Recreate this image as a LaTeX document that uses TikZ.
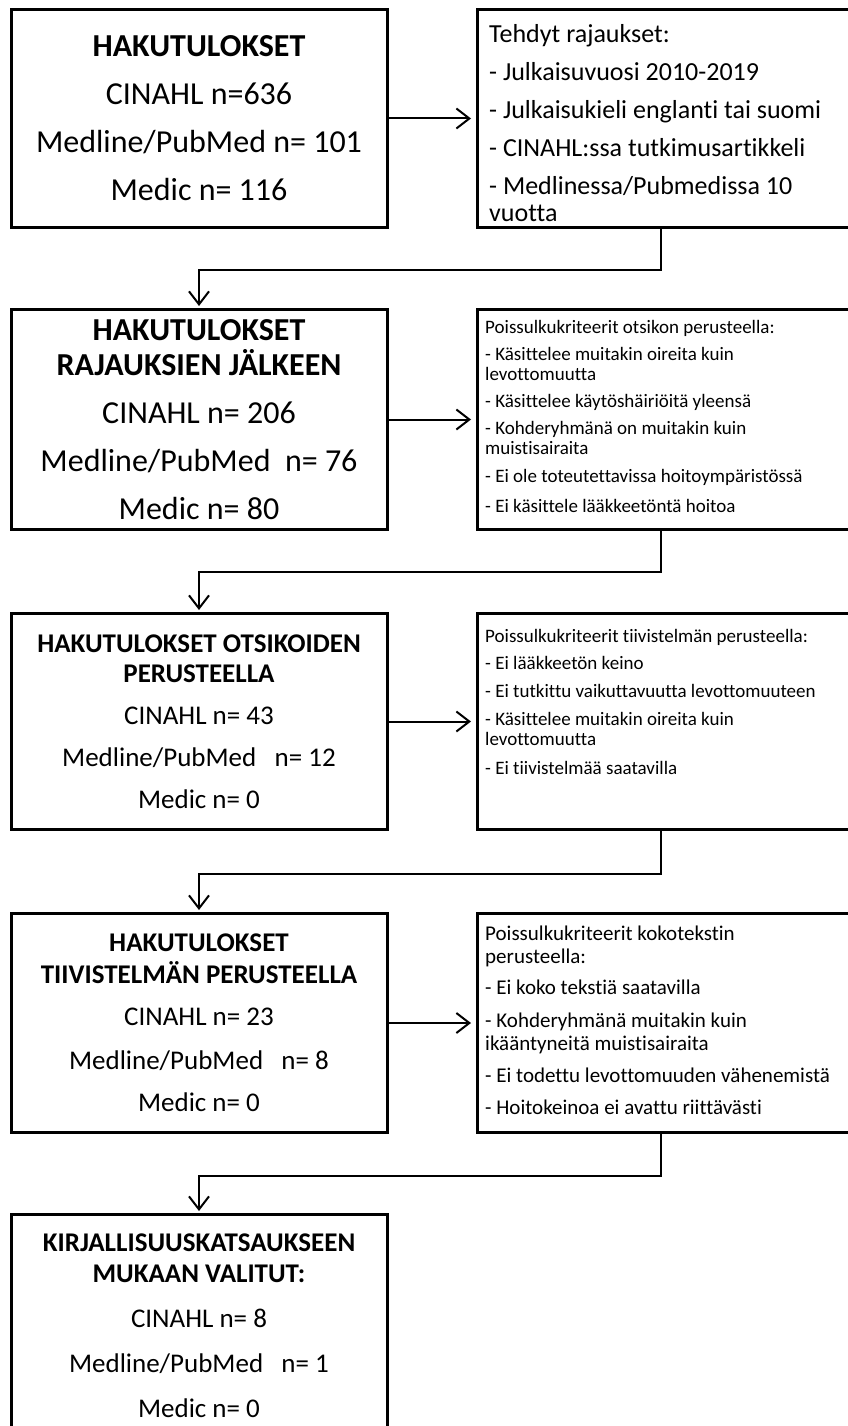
\documentclass[tikz,border=0pt]{standalone}
\usepackage{fontspec}
\setmainfont{Carlito}[Ligatures=NoCommon]
\usepackage{tikz}
\usetikzlibrary{arrows.meta, positioning}

\begin{document}
\begin{tikzpicture}[x=1pt, y=-1pt,
    haku/.style={draw, line width=3pt, minimum width=376pt, anchor=north, align=center},
    rajaus/.style={draw, line width=3pt, minimum width=416pt, anchor=north west},
    rajausteksti/.style={anchor=north west, align=left, inner sep=0pt},
    nuoli/.style={-{Straight Barb[length=13pt,width=20pt]}, line width=2pt}]

    \useasboundingbox (0,0) rectangle (848,1426);

    % Hakutulokset
    \node[haku, minimum height=218pt, font=\fontsize{32}{48}\selectfont] (b1) at (199,8)
        {\textbf{HAKUTULOKSET}\\CINAHL n=636\\Medline/PubMed n= 101\\Medic n= 116};
    \node[haku, minimum height=220pt, font=\fontsize{32}{35}\selectfont] (b2) at (199,308)
        {\textbf{HAKUTULOKSET}\\\textbf{RAJAUKSIEN JÄLKEEN}\\[13pt]CINAHL n= 206\\[13pt]Medline/PubMed\ \ n= 76\\[13pt]Medic n= 80};
    \node[haku, minimum height=216pt, font=\fontsize{27}{30}\selectfont] (b3) at (199,612)
        {\textbf{HAKUTULOKSET OTSIKOIDEN}\\\textbf{PERUSTEELLA}\\[12pt]CINAHL n= 43\\[12pt]Medline/PubMed\ \ \ n= 12\\[12pt]Medic n= 0};
    \node[haku, minimum height=219pt, font=\fontsize{27}{32}\selectfont] (b4) at (199,912)
        {\textbf{HAKUTULOKSET}\\\textbf{TIIVISTELMÄN PERUSTEELLA}\\[10pt]CINAHL n= 23\\[12pt]Medline/PubMed\ \ \ n= 8\\[10pt]Medic n= 0};
    \node[haku, minimum height=222pt, font=\fontsize{27}{31}\selectfont] (b5) at (199,1213)
        {\textbf{KIRJALLISUUSKATSAUKSEEN}\\\textbf{MUKAAN VALITUT:}\\[14pt]CINAHL n= 8\\[14pt]Medline/PubMed\ \ \ n= 1\\[14pt]Medic n= 0};

    % Rajaukset ja poissulkukriteerit
    \node[rajaus, minimum height=218pt] (c1) at (476,8) {};
    \node[rajaus, minimum height=220pt] (c2) at (476,308) {};
    \node[rajaus, minimum height=216pt] (c3) at (476,612) {};
    \node[rajaus, minimum height=219pt] (c4) at (476,912) {};

    \node[rajausteksti, font=\fontsize{26}{27}\selectfont] (t1) at ([xshift=13pt,yshift=-16pt]c1.north west)
        {Tehdyt rajaukset:\\[11pt]- Julkaisuvuosi 2010-2019\\[11pt]- Julkaisukieli englanti tai suomi\\[11pt]- CINAHL:ssa tutkimusartikkeli\\[11pt]- Medlinessa/Pubmedissa 10\\vuotta};
    \node[rajausteksti, font=\fontsize{19}{20}\selectfont] (t2) at ([xshift=9pt,yshift=-12pt]c2.north west)
        {Poissulkukriteerit otsikon perusteella:\\[7pt]- Käsittelee muitakin oireita kuin\\levottomuutta\\[7pt]- Käsittelee käytöshäiriöitä yleensä\\[7pt]- Kohderyhmänä on muitakin kuin\\muistisairaita\\[8pt]- Ei ole toteutettavissa hoitoympäristössä\\[10pt]- Ei käsittele lääkkeetöntä hoitoa};
    \node[rajausteksti, font=\fontsize{19}{20}\selectfont] (t3) at ([xshift=9pt,yshift=-17pt]c3.north west)
        {Poissulkukriteerit tiivistelmän perusteella:\\[7pt]- Ei lääkkeetön keino\\[8pt]- Ei tutkittu vaikuttavuutta levottomuuteen\\[8pt]- Käsittelee muitakin oireita kuin\\levottomuutta\\[9pt]- Ei tiivistelmää saatavilla};
    \node[rajausteksti, font=\fontsize{21}{23}\selectfont] (t4) at ([xshift=9pt,yshift=-14pt]c4.north west)
        {Poissulkukriteerit kokotekstin\\perusteella:\\[8pt]- Ei koko tekstiä saatavilla\\[10pt]- Kohderyhmänä muitakin kuin\\ikääntyneitä muistisairaita\\[9pt]- Ei todettu levottomuuden vähenemistä\\[9pt]- Hoitokeinoa ei avattu riittävästi};

    % Nuolet
    \draw[nuoli, shorten >=5pt] (b1.east) -- (c1.west);
    \draw[nuoli, shorten >=5pt] (b2.east) -- (c2.west);
    \draw[nuoli, shorten >=5pt] (b3.east) -- (c3.west);
    \draw[nuoli, shorten >=5pt] (b4.east) -- (c4.west);

    \draw[nuoli, shorten >=2pt] ([xshift=185pt]c1.south west) -- ++(0,41) -| (b2.north);
    \draw[nuoli, shorten >=2pt] ([xshift=185pt]c2.south west) -- ++(0,41) -| (b3.north);
    \draw[nuoli, shorten >=2pt] ([xshift=185pt]c3.south west) -- ++(0,43) -| (b4.north);
    \draw[nuoli, shorten >=2pt] ([xshift=185pt]c4.south west) -- ++(0,42) -| (b5.north);
\end{tikzpicture}
\end{document}
